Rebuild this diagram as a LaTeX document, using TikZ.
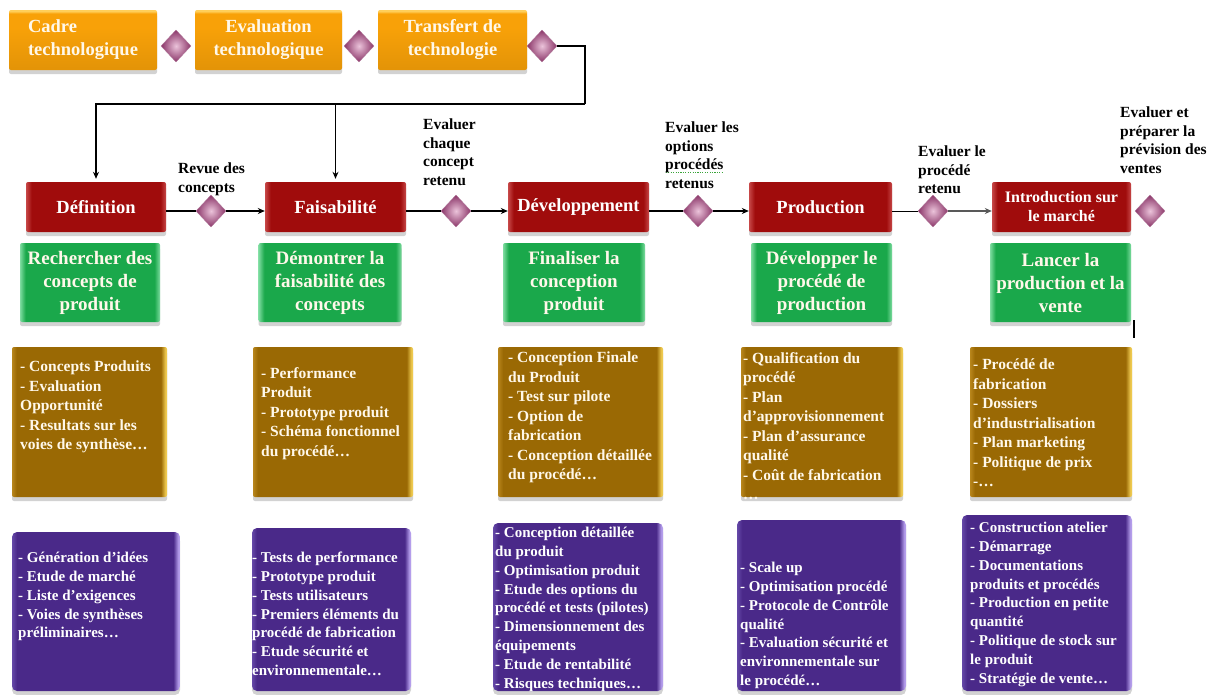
\documentclass[tikz,border=0pt]{standalone}
\usepackage{fontspec}
\setmainfont{Liberation Serif}
\usetikzlibrary{shapes.geometric,shadows,arrows.meta}

\definecolor{orangebox}{HTML}{F8A108}
\definecolor{orangeedge}{HTML}{FFCF5A}
\definecolor{redbox}{HTML}{A00C0C}
\definecolor{rededge}{HTML}{C74848}
\definecolor{greenbox}{HTML}{1AA84B}
\definecolor{greenedge}{HTML}{7EDCA0}
\definecolor{brownbox}{HTML}{9A6904}
\definecolor{brownleft}{HTML}{B8861C}
\definecolor{brownedge}{HTML}{EEC94F}
\definecolor{purplebox}{HTML}{4A2989}
\definecolor{purpleleft}{HTML}{6548A8}
\definecolor{purpleedge}{HTML}{B49DEB}
\definecolor{gemout}{HTML}{8A3568}
\definecolor{gemin}{HTML}{EBC3DA}
\definecolor{lighttext}{HTML}{FFF8EA}
\definecolor{spellgreen}{HTML}{3BA53B}

% panel shadings: the path spans 25bp..75bp of each shading
\pgfdeclareverticalshading{orangeshade}{100bp}{color(0bp)=(orangebox!88!black); color(27bp)=(orangebox!92!black); color(60bp)=(orangebox); color(72bp)=(orangebox); color(74bp)=(orangeedge); color(100bp)=(orangeedge)}
\pgfdeclarehorizontalshading{redshade}{100bp}{color(0bp)=(rededge); color(25bp)=(rededge); color(27bp)=(redbox); color(73bp)=(redbox); color(75bp)=(rededge); color(100bp)=(rededge)}
\pgfdeclarehorizontalshading{greenshade}{100bp}{color(0bp)=(greenedge); color(25bp)=(greenedge); color(27bp)=(greenbox); color(73bp)=(greenbox); color(75bp)=(greenedge); color(100bp)=(greenedge)}
\pgfdeclarehorizontalshading{brownshade}{100bp}{color(0bp)=(brownleft); color(25bp)=(brownleft); color(26.5bp)=(brownbox); color(73bp)=(brownbox); color(74.5bp)=(brownedge); color(100bp)=(brownedge)}
\pgfdeclarehorizontalshading{purpleshade}{100bp}{color(0bp)=(purpleleft); color(25bp)=(purpleleft); color(26.5bp)=(purplebox); color(73bp)=(purplebox); color(74.5bp)=(purpleedge); color(100bp)=(purpleedge)}

% dotted spell-check underline
\newcommand\spellmark[1]{%
  \setbox0=\hbox{#1}%
  \rlap{\raisebox{-3pt}[0pt][0pt]{\color{spellgreen}\hbox to \wd0{\xleaders\hbox to 2.4pt{\hss\rule{1.2pt}{1pt}\hss}\hfill}}}%
  \box0}

\tikzset{
  panel/.style={rectangle, rounded corners=2pt, inner sep=0pt, shade, shading=#1,
    drop shadow={shadow xshift=0pt, shadow yshift=-4pt, opacity=0.35}},
  orangepanel/.style={panel=orangeshade, text=lighttext, align=center,
    font=\bfseries\fontsize{18.5}{23}\selectfont},
  redpanel/.style={panel=redshade, text=white, align=center,
    font=\bfseries\fontsize{18.5}{20}\selectfont},
  greenpanel/.style={panel=greenshade, text=lighttext, align=center,
    font=\bfseries\fontsize{19}{23}\selectfont},
  brownpanel/.style={panel=brownshade},
  purplepanel/.style={panel=purpleshade, rounded corners=5pt},
  btext/.style={inner sep=0pt, anchor=north west, align=left, text=lighttext,
    font=\bfseries\fontsize{15.5}{19.5}\selectfont},
  ptext/.style={inner sep=0pt, anchor=north west, align=left, text=white,
    font=\bfseries\fontsize{15}{18.8}\selectfont},
  gatelabel/.style={inner sep=0pt, anchor=north west, align=left, text=black,
    font=\bfseries\fontsize{15.5}{18.5}\selectfont},
  gem/.style={diamond, minimum width=30pt, minimum height=32pt, inner sep=0pt,
    inner color=gemin, outer color=gemout, draw=gemout!70!white, line width=0.4pt},
  conn/.style={draw=black, line width=1.2pt},
  arr/.style={conn, -{Stealth[length=7pt,width=6pt]}},
}

\begin{document}
\begin{tikzpicture}[x=1pt,y=-1pt]
\useasboundingbox (0,0) rectangle (1215,694);
\fill[white] (0,0) rectangle (1215,694);

% top row: technology stages
\node[orangepanel, align=left, minimum width=148pt, minimum height=60pt] (o1) at (83,40) {Cadre\\technologique};
\node[orangepanel, minimum width=147pt, minimum height=60pt] (o2) at (268.5,40) {Evaluation\\technologique};
\node[orangepanel, minimum width=149pt, minimum height=60pt] (o3) at (452.5,40) {Transfert de\\technologie};
\node[gem] (d1) at (176,46) {};
\node[gem] (d2) at (359,46) {};
\node[gem] (d3) at (542,46) {};

% phase row
\node[redpanel, minimum width=140pt, minimum height=50pt] (r1) at (96,207) {Définition};
\node[redpanel, minimum width=141pt, minimum height=50pt] (r2) at (335.5,207) {Faisabilité};
\node[redpanel, minimum width=141pt, minimum height=50pt] (r3) at (578.5,207) {Développement};
\node[redpanel, minimum width=143pt, minimum height=50pt] (r4) at (820.5,207) {Production};
\node[redpanel, minimum width=139pt, minimum height=50pt, font=\bfseries\fontsize{16}{19}\selectfont] (r5) at (1061.5,207) {Introduction sur\\le marché};

\node[gem] (g1) at (211,211) {};
\node[gem] (g2) at (456,211) {};
\node[gem] (g3) at (698,211) {};
\node[gem] (g4) at (933,211) {};
\node[gem] (g5) at (1150,211) {};

% gate labels
\node[gatelabel] (l1) at (178,163) {Revue des\\concepts};
\node[gatelabel] (l2) at (423,119) {Evaluer\\chaque\\concept\\retenu};
\node[gatelabel] (l3) at (665,122) {Evaluer les\\options\\\spellmark{procédés}\\retenus};
\node[gatelabel] (l4) at (918,146) {Evaluer le\\procédé\\retenu};
\node[gatelabel] (l5) at (1120,107) {Evaluer et\\préparer la\\prévision des\\ventes};

% connectors
\coordinate (turn) at (585,104);
\draw[conn] (d3.east) -| (turn);
\draw[arr, shorten >=3pt] (turn) -| (r1.north);
\draw[arr, shorten >=3pt] (r2.north |- turn) -- (r2.north);

\draw[conn] (r1.east |- g1.west) -- (g1.west);
\draw[arr] (g1.east) -- (r2.west |- g1.east);
\draw[conn] (r2.east |- g2.west) -- (g2.west);
\draw[arr] (g2.east) -- (r3.west |- g2.east);
\draw[conn] (r3.east |- g3.west) -- (g3.west);
\draw[arr] (g3.east) -- (r4.west |- g3.east);
\draw[conn, line width=0.8pt] (r4.east |- g4.west) -- (g4.west);
\draw[arr, draw=black!65] (g4.east) -- (r5.west |- g4.east);

% objectives
\node[greenpanel, minimum width=140pt, minimum height=79pt] (n1) at (90,282.5) {Rechercher des\\concepts de\\produit};
\node[greenpanel, minimum width=143pt, minimum height=79pt] (n2) at (330,282.5) {Démontrer la\\faisabilité des\\concepts};
\node[greenpanel, minimum width=142pt, minimum height=79pt] (n3) at (574,282.5) {Finaliser la\\conception\\produit};
\node[greenpanel, minimum width=141pt, minimum height=79pt] (n4) at (821.5,282.5) {Développer le\\procédé de\\production};
\node[greenpanel, minimum width=141pt, minimum height=79pt] (n5) at (1060.5,282.5) {Lancer la\\production et la\\vente};

% deliverables
\node[brownpanel, minimum width=155pt, minimum height=150pt] (b1) at (89.5,422) {};
\node[brownpanel, minimum width=160pt, minimum height=150pt] (b2) at (333,422) {};
\node[brownpanel, minimum width=165pt, minimum height=150pt] (b3) at (580.5,422) {};
\node[brownpanel, minimum width=162pt, minimum height=150pt] (b4) at (822,422) {};
\node[brownpanel, minimum width=162pt, minimum height=150pt] (b5) at (1051,422) {};

\node[btext] (bt1) at (20,361) {- Concepts Produits\\- Evaluation\\Opportunité\\- Resultats sur les\\voies de synthèse…};
\node[btext] (bt2) at (261,367) {- Performance\\Produit\\- Prototype produit\\- Schéma fonctionnel\\du procédé…};
\node[btext] (bt3) at (508,352) {- Conception Finale\\du Produit\\- Test sur pilote\\- Option de\\fabrication\\- Conception détaillée\\du procédé…};
\node[btext] (bt4) at (743,352) {- Qualification du\\procédé\\- Plan\\d’approvisionnement\\- Plan d’assurance\\qualité\\- Coût de fabrication\\…};
\node[btext] (bt5) at (973,359) {- Procédé de\\fabrication\\- Dossiers\\d’industrialisation\\- Plan marketing\\- Politique de prix\\-…};

% activities
\node[purplepanel, minimum width=168pt, minimum height=159pt] (p1) at (96,611.5) {};
\node[purplepanel, minimum width=159pt, minimum height=163pt] (p2) at (331.5,609.5) {};
\node[purplepanel, minimum width=170pt, minimum height=168pt] (p3) at (578,607) {};
\node[purplepanel, minimum width=169pt, minimum height=171pt] (p4) at (821.5,605.5) {};
\node[purplepanel, minimum width=170pt, minimum height=176pt] (p5) at (1047,603) {};

\node[ptext] (pt1) at (18,552) {- Génération d’idées\\- Etude de marché\\- Liste d’exigences\\- Voies de synthèses\\préliminaires…};
\node[ptext] (pt2) at (252,552) {- Tests de performance\\- Prototype produit\\- Tests utilisateurs\\- Premiers éléments du\\procédé de fabrication\\- Etude sécurité et\\environnementale…};
\node[ptext] (pt3) at (495,527) {- Conception détaillée\\du produit\\- Optimisation produit\\- Etude des options du\\procédé et tests (pilotes)\\- Dimensionnement des\\équipements\\- Etude de rentabilité\\- Risques techniques…};
\node[ptext] (pt4) at (740,562) {- Scale up\\- Optimisation procédé\\- Protocole de Contrôle\\qualité\\- Evaluation sécurité et\\environnementale sur\\le procédé…};
\node[ptext] (pt5) at (970,522) {- Construction atelier\\- Démarrage\\- Documentations\\produits et procédés\\- Production en petite\\quantité\\- Politique de stock sur\\le produit\\- Stratégie de vente…};

% text cursor mark
\fill[black] (1132.5,320) rectangle (1134.5,338);
\end{tikzpicture}
\end{document}
